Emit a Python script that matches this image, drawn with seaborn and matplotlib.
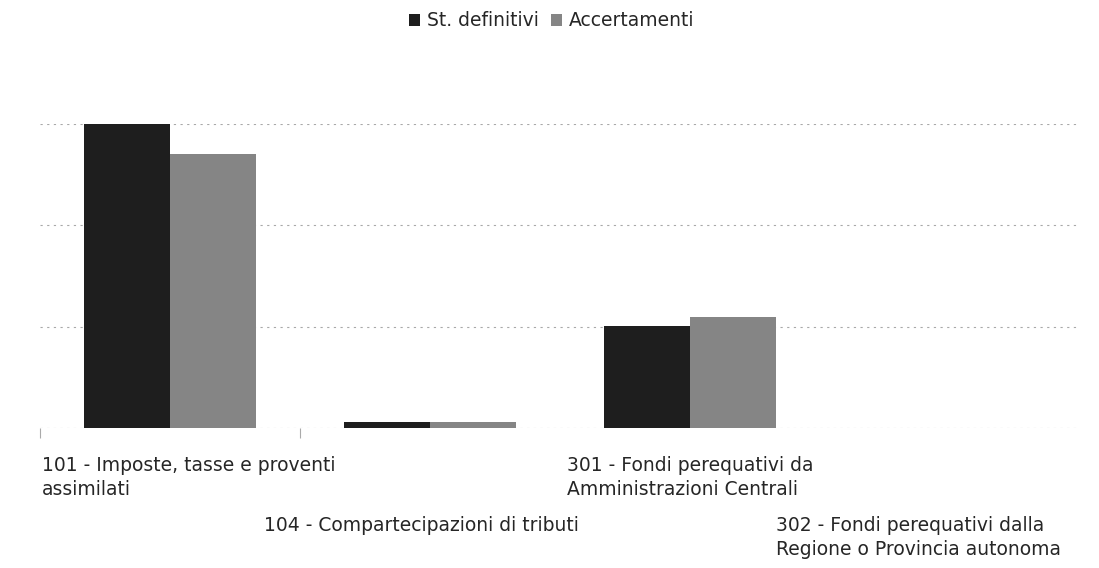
import pandas as pd
import numpy as np
import matplotlib
matplotlib.use("Agg")
import matplotlib.pyplot as plt
from matplotlib.transforms import ScaledTranslation
import seaborn as sns

# categories and values (units = one gridline step)
categories = [
    "101 - Imposte, tasse e proventi\nassimilati",
    "104 - Compartecipazioni di tributi",
    "301 - Fondi perequativi da\nAmministrazioni Centrali",
    "302 - Fondi perequativi dalla\nRegione o Provincia autonoma",
]
st_definitivi = [3.0, 0.06, 1.01, 0.0]
accertamenti = [2.70, 0.06, 1.10, 0.0]
series_names = ["St. definitivi", "Accertamenti"]

df = pd.DataFrame({
    "Categoria": categories * 2,
    "Serie": [series_names[0]] * 4 + [series_names[1]] * 4,
    "Valore": st_definitivi + accertamenti,
})

sns.set_theme(style="white")
plt.rcParams["font.family"] = ["DejaVu Sans"]

fig = plt.figure(figsize=(10.99, 5.68), dpi=100)
ax = fig.add_axes([0.036, 0.246, 0.947, 0.536])

palette = {"St. definitivi": "#1e1e1e", "Accertamenti": "#858585"}
sns.barplot(data=df, x="Categoria", y="Valore", hue="Serie", palette=palette,
            width=0.66, gap=0, saturation=1, linewidth=0, ax=ax, legend=True)

ax.set_ylim(0, 3.0)
ax.set_xlim(-0.5, 3.5)
ax.set_yticks([0, 1, 2, 3])
ax.set_yticklabels([])
ax.tick_params(axis="y", length=0)
ax.yaxis.grid(True, linestyle=(0, (2, 4)), color="#a8a8a8", linewidth=0.8)
ax.set_axisbelow(True)
for s in ax.spines.values():
    s.set_visible(False)
ax.set_xlabel("")
ax.set_ylabel("")

# category separators (only the two visible on the scan)
ax.set_xticks([-0.5, 0.5], minor=True)
ax.tick_params(axis="x", which="minor", bottom=True, length=7, color="#aaaaaa",
               width=0.8, direction="out")
ax.tick_params(axis="x", which="major", length=0, pad=20, labelsize=13.5)

labels = ax.get_xticklabels()
for i, lab in enumerate(labels):
    lab.set_multialignment("left")
    lab.set_linespacing(1.35)
    dx = 0.0
    dy = 0.0
    if i == 0:
        dx = 0.19
    if i % 2 == 1:
        dy = -0.6
    if i == 1:
        dx = -0.08
    if i == 3:
        dx = -0.32
    lab.set_transform(lab.get_transform() + ScaledTranslation(dx, dy, fig.dpi_scale_trans))

# legend at top
handles, lbls = ax.get_legend_handles_labels()
ax.get_legend().remove()
fig.legend(handles, lbls, loc="upper center", bbox_to_anchor=(0.502, 1.01), ncol=2,
           frameon=False, fontsize=13.5, handlelength=0.6, handleheight=0.6,
           handletextpad=0.4, columnspacing=0.6)

fig.savefig("out.png", dpi=100)
